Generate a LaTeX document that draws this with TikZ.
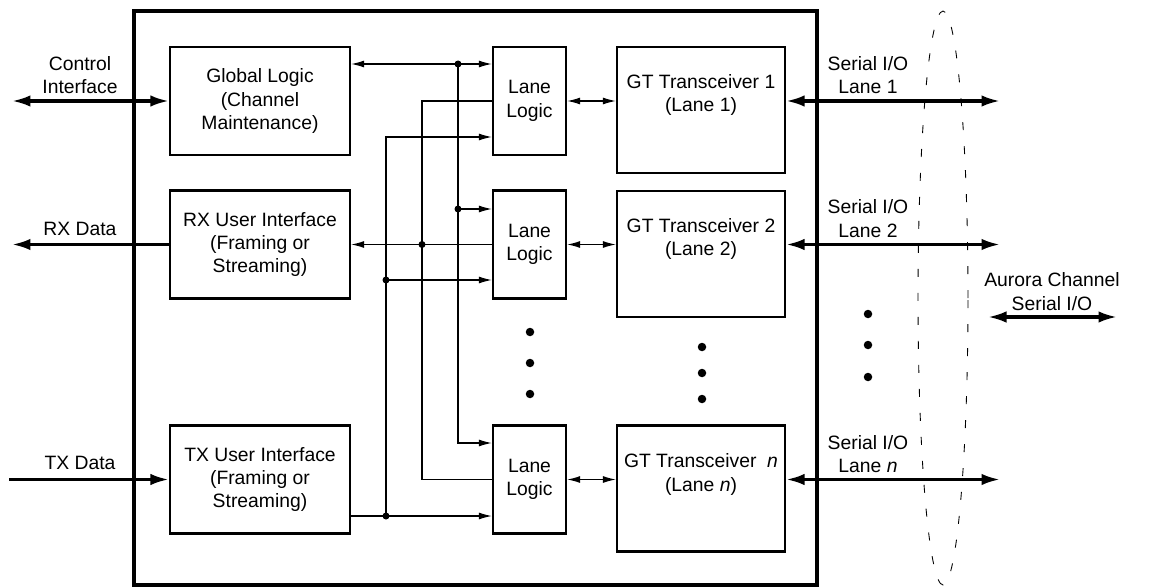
\documentclass[tikz,border=0pt]{standalone}
\usepackage{fontspec}
\setmainfont{Liberation Sans}
\usetikzlibrary{shapes, arrows.meta, positioning, fit, calc}

\begin{document}
\begin{tikzpicture}[x=0.02cm, y=-0.02cm,
    font=\fontsize{11}{13.3}\selectfont,
    blk/.style={draw, line width=1.3pt, minimum width=3.6cm, minimum height=2.16cm, align=center, inner sep=0pt},
    lane/.style={blk, minimum width=1.46cm},
    gtbox/.style={blk, minimum width=3.36cm, minimum height=2.52cm},
    txt/.style={align=center, inner sep=0pt},
    sig/.style={line width=0.7pt},
    sarr/.style={sig, -{Latex[length=0.26cm,width=0.14cm]}},
    sboth/.style={sig, {Latex[length=0.26cm,width=0.14cm]}-{Latex[length=0.26cm,width=0.14cm]}},
    bus/.style={line width=1.8pt},
    tarr/.style={bus, -{Latex[length=0.37cm,width=0.23cm]}},
    tboth/.style={bus, {Latex[length=0.37cm,width=0.23cm]}-{Latex[length=0.37cm,width=0.23cm]}},
    jdot/.style={circle, fill, inner sep=0pt, minimum size=0.14cm},
    bigdot/.style={circle, fill, inner sep=0pt, minimum size=0.17cm}]
    \useasboundingbox (0,0) rectangle (1163,588);

    % Outer core
    \draw[line width=1.8pt] (134,11) rectangle (817,585);

    % Left column
    \node[blk] (gl) at (260,101) {Global Logic\\(Channel\\Maintenance)};
    \node[blk] (rx) at (260,244.5) {RX User Interface\\(Framing or\\Streaming)};
    \node[blk] (tx) at (260,479.5) {TX User Interface\\(Framing or\\Streaming)};

    % Lane logic
    \node[lane] (ll1) at (529.5,101) {Lane\\Logic};
    \node[lane] (ll2) at (529.5,244.5) {Lane\\Logic};
    \node[lane] (lln) at (529.5,479.5) {Lane\\Logic};

    % Transceivers
    \node[gtbox] (gt1) at (701,110) {};
    \node[gtbox] (gt2) at (701,254) {};
    \node[gtbox] (gtn) at (701,488.5) {};
    \node[txt] (gt1txt) at ([yshift=0.3cm]gt1.center) {GT Transceiver 1\\(Lane 1)};
    \node[txt] (gt2txt) at ([yshift=0.3cm]gt2.center) {GT Transceiver 2\\(Lane 2)};
    \node[txt] (gtntxt) at ([yshift=0.28cm]gtn.center) {GT Transceiver \ \textit{n}\\(Lane \textit{n})};

    % Ellipsis dots
    \foreach \y in {332,363,394} \node[bigdot] at (530,\y) {};
    \foreach \y in {347,373,399} \node[bigdot] at (702,\y) {};
    \foreach \y in {314,345,377} \node[bigdot] at (868,\y) {};

    % Global logic bus
    \coordinate (ja) at (458,64);
    \draw[sboth] (gl.east |- ja) -- (ll1.west |- ja);
    \draw[sarr] (ja) |- (ll2.west |- 0,209);
    \draw[sarr] (ja) |- (lln.west |- 0,443);
    \node[jdot] at (ja) {};
    \node[jdot] at (458,209) {};

    % RX bus
    \coordinate (jb) at (422,244.5);
    \draw[sig] (ll1.west) -| (jb);
    \draw[sig] (lln.west) -| (jb);
    \draw[sig] (ll2.west) -- (jb);
    \draw[sarr] (jb) -- (rx.east);
    \node[jdot] at (jb) {};

    % TX bus
    \coordinate (jc1) at (386,516);
    \coordinate (jc2) at (386,280);
    \draw[sarr] (tx.east |- jc1) -- (lln.west |- jc1);
    \draw[sarr] (jc1) |- (ll1.west |- 0,137);
    \draw[sarr] (jc2) -- (ll2.west |- jc2);
    \node[jdot] at (jc1) {};
    \node[jdot] at (jc2) {};

    % Lane logic to transceivers
    \draw[sboth] (ll1.east) -- (gt1.west |- ll1.east);
    \draw[sboth] (ll2.east) -- (gt2.west |- ll2.east);
    \draw[sboth] (lln.east) -- (gtn.west |- lln.east);

    % User side
    \coordinate (ctl) at (12,101);
    \coordinate (rxo) at (12,244.5);
    \coordinate (txi) at (9,479.5);
    \draw[tboth] (ctl) -- (gl.west);
    \draw[tarr] (rx.west) -- (rxo);
    \draw[tarr] (txi) -- (tx.west);
    \node[txt] (ctltxt) at (80,75) {Control\\Interface};
    \node[txt] (rxtxt) at (80,229) {RX Data};
    \node[txt] (txtxt) at (80,463) {TX Data};

    % Serial side
    \coordinate (s1) at (1000,101);
    \coordinate (s2) at (1000,244.5);
    \coordinate (sn) at (1000,479.5);
    \draw[tboth] (gt1.east |- ll1.east) -- (s1);
    \draw[tboth] (gt2.east |- ll2.east) -- (s2);
    \draw[tboth] (gtn.east |- lln.east) -- (sn);
    \node[txt] (s1txt) at (868,75) {Serial I/O\\Lane 1};
    \node[txt] (s2txt) at (868,218.5) {Serial I/O\\Lane 2};
    \node[txt] (sntxt) at (868,454) {Serial I/O\\Lane \textit{n}};

    % Aurora channel
    \draw[dash pattern=on 0.16cm off 0.32cm, line width=0.5pt] (943,298) ellipse (0.5cm and 5.74cm);
    \node[txt] (aurtxt) at (1052,291.5) {Aurora Channel\\Serial I/O};
    \coordinate (aurl) at (988,317);
    \coordinate (aurr) at (1117,317);
    \draw[tboth] (aurl) -- (aurr);
\end{tikzpicture}
\end{document}
